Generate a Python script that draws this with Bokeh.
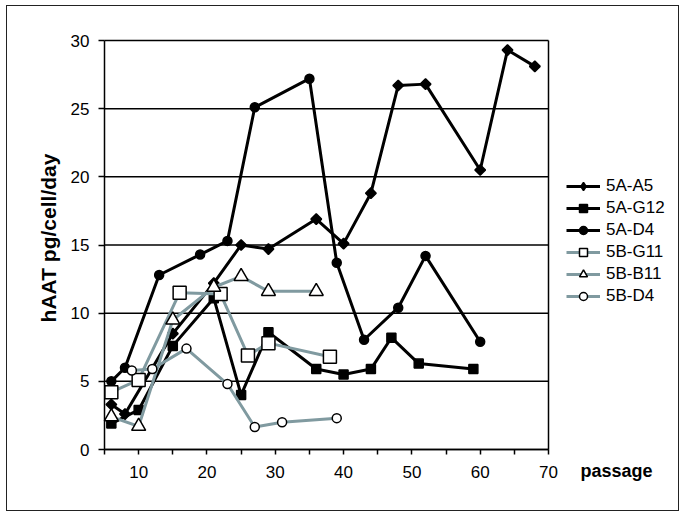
import numpy as np
from bokeh.plotting import figure
from bokeh.layouts import column
from bokeh.models import Legend, LegendItem, FixedTicker, Range1d
from bokeh.core.properties import value
from bokeh.embed import file_html
from bokeh.resources import INLINE

# ---- data ----
a5_x = [6, 8, 15, 21, 25, 29, 36, 40, 44, 48, 52, 60, 64, 68]
a5_y = [3.3, 2.6, 8.5, 12.2, 15.0, 14.7, 16.9, 15.1, 18.8, 26.7, 26.8, 20.5, 29.3, 28.1]

g12_x = [6, 10, 15, 21, 25, 29, 36, 40, 44, 47, 51, 59]
g12_y = [1.9, 2.9, 7.6, 11.1, 4.0, 8.6, 5.9, 5.5, 5.9, 8.2, 6.3, 5.9]

ad4_x = [6, 8, 13, 19, 23, 27, 35, 39, 43, 48, 52, 60]
ad4_y = [5.0, 6.0, 12.8, 14.3, 15.3, 25.1, 27.2, 13.7, 8.05, 10.4, 14.2, 7.9]

g11_x = [6, 10, 16, 22, 26, 29, 38]
g11_y = [4.2, 5.1, 11.5, 11.4, 6.9, 7.8, 6.8]

b11_x = [6, 10, 15, 21, 25, 29, 36]
b11_y = [2.4, 1.7, 9.5, 11.9, 12.7, 11.6, 11.6]

bd4_x = [9, 12, 17, 23, 27, 31, 39]
bd4_y = [5.8, 5.9, 7.4, 4.8, 1.65, 2.0, 2.3]

x_ticks = [10, 20, 30, 40, 50, 60, 70]
x_minor = [5, 15, 25, 35, 45, 55, 65]
y_ticks = [0, 5, 10, 15, 20, 25, 30]
X_MIN, X_MAX = 5, 70
Y_MIN, Y_MAX = 0, 30

FONT = "Liberation Sans"
GRAY = "#809aa0"

# layout of the drawing area (pixels)
CW, CH = 671, 504          # canvas size
PLOT_LEFT, PLOT_TOP = 97, 34
PX_X = 444 / (X_MAX - X_MIN)
PX_Y = 409 / (Y_MAX - Y_MIN)
x0 = X_MIN - PLOT_LEFT / PX_X
y1 = Y_MAX + PLOT_TOP / PX_Y

p = figure(frame_width=CW, frame_height=CH, output_backend="svg", toolbar_location=None,
           x_range=Range1d(x0, x0 + CW / PX_X), y_range=Range1d(y1 - CH / PX_Y, y1),
           min_border_left=0, min_border_right=0, min_border_top=0, min_border_bottom=0)

p.xgrid.visible = False
p.ygrid.visible = False
p.outline_line_color = None

# plot-area grid lines and right border
p.segment(x0=X_MIN, y0=y_ticks, x1=X_MAX, y1=y_ticks, line_color="black", line_width=1.5)
p.segment(x0=X_MAX, y0=Y_MIN, x1=X_MAX, y1=Y_MAX, line_color="black", line_width=1.5)

p.xaxis.ticker = FixedTicker(ticks=x_ticks, minor_ticks=x_minor)
p.xaxis.fixed_location = Y_MIN
p.xaxis.bounds = (X_MIN, X_MAX)
p.yaxis.ticker = FixedTicker(ticks=y_ticks)
p.yaxis.fixed_location = X_MIN
p.yaxis.bounds = (Y_MIN, Y_MAX)
for ax in (p.xaxis, p.yaxis):
    ax.axis_line_color = "black"
    ax.axis_line_width = 1.5
    ax.major_tick_line_color = "black"
    ax.major_tick_line_width = 1.5
    ax.minor_tick_line_color = "black"
    ax.minor_tick_line_width = 1.5
    ax.major_label_text_font = FONT
    ax.major_label_text_font_size = "17px"
    ax.major_label_text_color = "black"
p.xaxis.major_tick_out = 5
p.xaxis.major_tick_in = 0
p.xaxis.minor_tick_out = 5
p.xaxis.minor_tick_in = 0
p.xaxis.major_label_standoff = 11
p.yaxis.major_tick_out = 6
p.yaxis.major_tick_in = 0
p.yaxis.minor_tick_line_color = None
p.yaxis.major_label_standoff = 9

items = []

def series(label, xs, ys, color, marker, size, fill, angle=0.0, legend_marker=None):
    lr = p.line(xs, ys, line_color=color, line_width=3)
    sr = p.scatter(xs, ys, marker=marker, size=size, fill_color=fill,
                   line_color="black", line_width=1.5, angle=angle)
    rends = [lr, sr]
    if legend_marker is not None:
        # marker shown only in the legend (rotated markers are drawn unrotated there)
        lm = p.scatter(xs, ys, marker=legend_marker, size=size * 1.6, fill_color=fill,
                       line_color="black", line_width=1.5, visible=False)
        rends = [lr, lm]
    items.append(LegendItem(label=label, renderers=rends))

series("5A-A5", a5_x, a5_y, "black", "square", 7.5, "black", angle=np.pi / 4,
       legend_marker="diamond")
series("5A-G12", g12_x, g12_y, "black", "square", 9, "black")
series("5A-D4", ad4_x, ad4_y, "black", "circle", 9, "black")
series("5B-G11", g11_x, g11_y, GRAY, "square", 13, "white")
series("5B-B11", b11_x, b11_y, GRAY, "triangle", 14, "white")
series("5B-D4", bd4_x, bd4_y, GRAY, "circle", 9, "white")

# axis titles
p.text(x=[X_MAX], y=[Y_MIN], text=["passage"], x_offset=32, y_offset=21,
       text_font=value(FONT), text_font_size="18px", text_font_style="bold",
       text_baseline="middle", text_align="left", text_color="black")
p.text(x=[X_MIN], y=[(Y_MIN + Y_MAX) / 2], text=["hAAT pg/cell/day"], angle=np.pi / 2,
       x_offset=-56, y_offset=-7,
       text_font=value(FONT), text_font_size="21px", text_font_style="bold",
       text_baseline="middle", text_align="center", text_color="black")

legend = Legend(items=items, location=(559, 204), border_line_color=None,
                background_fill_alpha=0, margin=0, padding=10, spacing=2,
                glyph_width=34, glyph_height=20, label_height=20, label_standoff=6,
                label_text_font=FONT, label_text_font_size="17px", label_text_color="black")
p.add_layout(legend, "center")

layout = column(p, styles={"border": "1px solid #222", "margin-left": "6px", "margin-top": "5px"})

open("out.html", "w").write(file_html(layout, INLINE))
